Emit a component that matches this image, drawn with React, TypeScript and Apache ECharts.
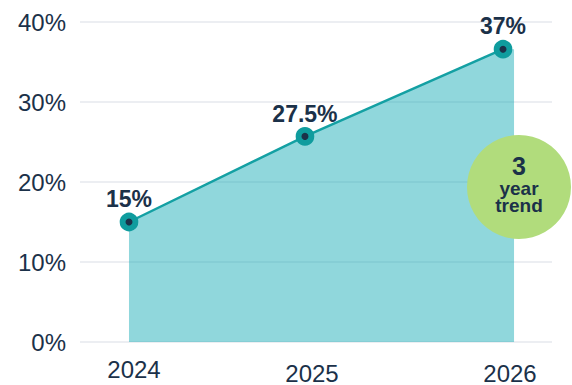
import React, { useEffect, useRef } from "react";
import * as echarts from "echarts";

const xLabels = ["2024", "2025", "2026"];
const xPositions = [2024, 2024.941, 2026];
const values = [15, 25.7, 36.6];
const valueLabels = ["15%", "27.5%", "37%"];
const areaEndX = 2026.059;
const yTicks = [0, 10, 20, 30, 40];
const badgeLines = ["3", "year", "trend"];

const NAVY = "#1b3149";
const TEAL = "#14a0a3";
const FONT = "'Liberation Sans', Arial, sans-serif";

export default function App() {
  const ref = useRef<HTMLDivElement>(null);
  useEffect(() => {
    if (!ref.current) return;
    const chart = echarts.init(ref.current, null, { renderer: "svg" });
    const lineData = xPositions.map((x, i) => [x, values[i]]);
    const areaData = [...lineData, [areaEndX, values[values.length - 1]]];
    chart.setOption({
      animation: false,
      grid: { left: 80, right: 20, top: 22, bottom: 41, containLabel: false },
      xAxis: {
        type: "value",
        min: 2023.738,
        max: 2026.262,
        axisLine: { show: false },
        axisTick: { show: false },
        splitLine: { show: false },
        axisLabel: {
          customValues: xPositions,
          margin: 15,
          color: NAVY,
          fontSize: 24,
          fontFamily: FONT,
          formatter: (v: number) => {
            const i = xPositions.findIndex((p) => Math.abs(p - v) < 1e-6);
            const t = i >= 0 ? xLabels[i] : "";
            return i === 0 ? `{a|${t}}` : `{b|${t}}`;
          },
          rich: {
            a: { fontSize: 24, color: NAVY, fontFamily: FONT, padding: [0, 0, 0, 10] },
            b: { fontSize: 24, color: NAVY, fontFamily: FONT, padding: [4, 0, 0, 14] },
          },
        },
      },
      yAxis: {
        type: "value",
        min: yTicks[0],
        max: yTicks[yTicks.length - 1],
        interval: 10,
        axisLine: { show: false },
        axisTick: { show: false },
        splitLine: { show: true, lineStyle: { color: "#e6e9ee", width: 1.5 } },
        axisLabel: {
          margin: 14,
          color: NAVY,
          fontSize: 24,
          fontFamily: FONT,
          formatter: "{value}%",
        },
      },
      series: [
        {
          type: "line",
          data: areaData,
          symbol: "none",
          lineStyle: { width: 0 },
          areaStyle: { color: "rgb(20,170,180)", opacity: 0.47 },
          z: 1,
          silent: true,
        },
        {
          type: "line",
          data: lineData,
          symbol: "circle",
          symbolSize: 12.8,
          lineStyle: { color: TEAL, width: 2.5 },
          itemStyle: { color: NAVY, borderColor: "#0f9c9e", borderWidth: 5.8 },
          label: {
            show: true,
            position: "top",
            distance: 2,
            color: NAVY,
            fontSize: 23,
            fontWeight: "bold",
            fontFamily: FONT,
            formatter: (p: any) => valueLabels[p.dataIndex],
          },
          z: 3,
        },
      ],
      graphic: [
        {
          type: "circle",
          z: 100,
          shape: { cx: 519, cy: 187, r: 52 },
          style: { fill: "#b1dc7c" },
        },
        {
          type: "text",
          z: 101,
          x: 519,
          y: 152,
          style: {
            text: `{a|${badgeLines[0]}}\n{b|${badgeLines[1]}}\n{b|${badgeLines[2]}}`,
            fill: NAVY,
            textAlign: "center",
            textVerticalAlign: "top",
            rich: {
              a: { fontSize: 25, fontWeight: "bold", fontFamily: FONT, lineHeight: 27.5, fill: NAVY, align: "center" },
              b: { fontSize: 19, fontWeight: "bold", fontFamily: FONT, lineHeight: 17.5, fill: NAVY, align: "center" },
            },
          },
        },
      ],
    });
    return () => chart.dispose();
  }, []);
  return (
    <div
      ref={ref}
      style={{ position: "fixed", left: 0, top: 0, width: 572, height: 385, background: "#fff" }}
    />
  );
}
